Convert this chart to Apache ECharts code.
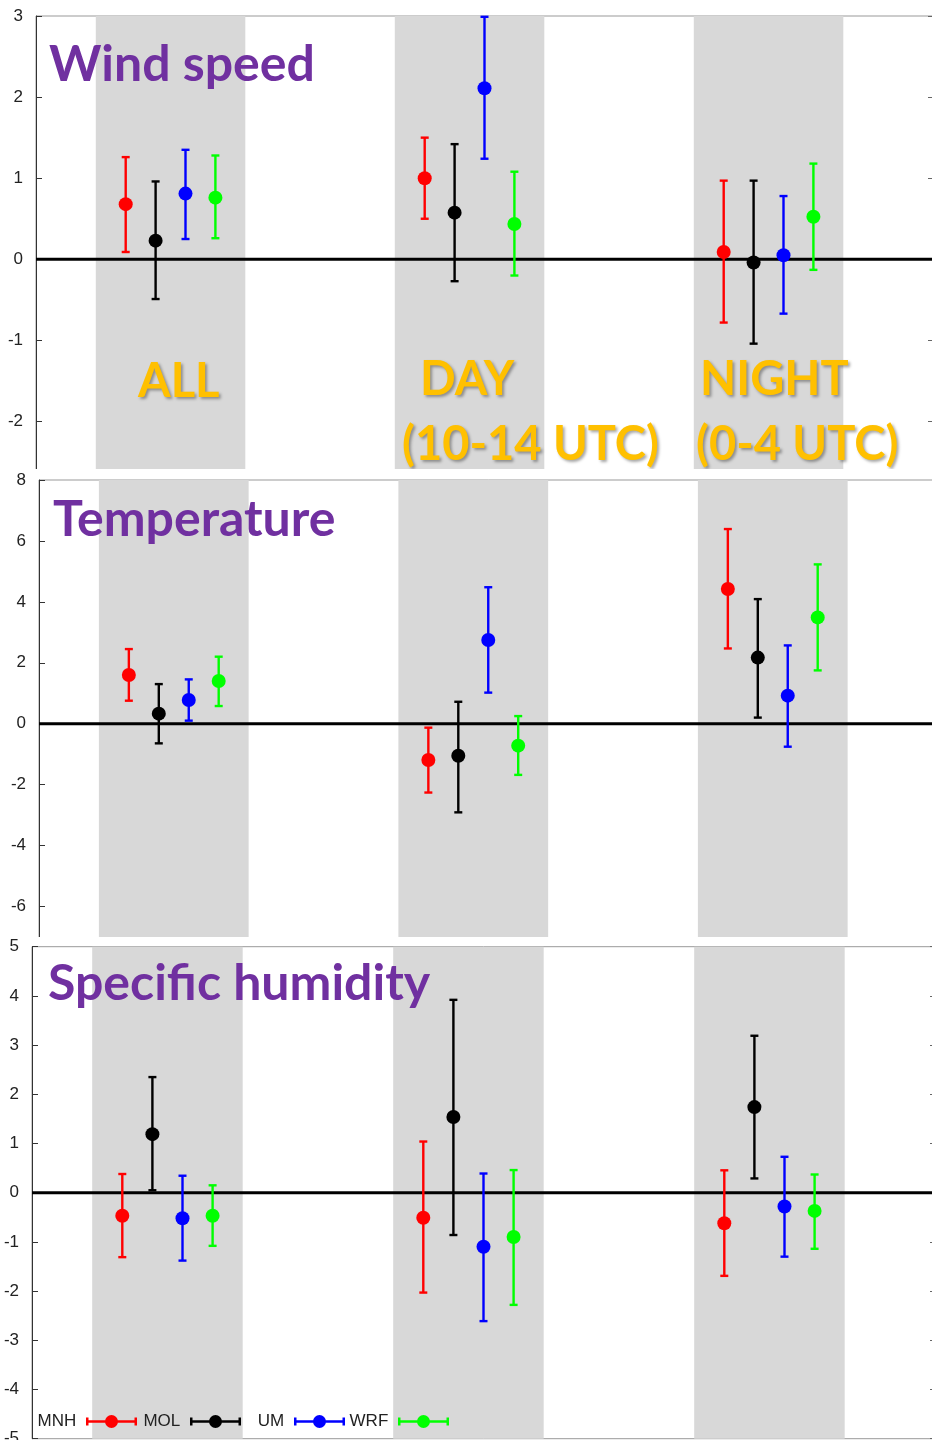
<!DOCTYPE html>
<html>
<head>
<meta charset="utf-8">
<script src="https://cdn.jsdelivr.net/npm/echarts@6/dist/echarts.min.js"></script>
<style>
  html, body { margin: 0; padding: 0; background: #fff; }
  #page { position: relative; width: 932px; height: 1440px; overflow: hidden; background: #fff; }
  .clip { position: absolute; left: 0; width: 932px; overflow: hidden; }
  .chart { position: absolute; left: 0; top: 0; width: 950px; }
</style>
</head>
<body>
<div id="page">
  <div class="clip" style="top:0;height:469px"><div class="chart" id="wind" style="height:520px"></div></div>
  <div class="clip" style="top:469px;height:468px"><div class="chart" id="temp" style="height:520px"></div></div>
  <div class="clip" style="top:937px;height:503px"><div class="chart" id="hum" style="height:520px"></div></div>
</div>
<script>
// Models and averaging periods
const models = ['MNH', 'MOL', 'UM', 'WRF'];
const modelColors = ['#FF0000', '#000000', '#0000FF', '#00FF00'];
const periods = ['ALL', 'DAY', 'NIGHT'];

// Wind speed bias: rows = model, columns = period (ALL, DAY, NIGHT)
const windMean = [[0.68, 1.00, 0.09], [0.23, 0.575, -0.04], [0.81, 2.11, 0.05], [0.76, 0.435, 0.525]];
const windLow  = [[0.09, 0.50, -0.78], [-0.49, -0.27, -1.04], [0.25, 1.24, -0.67], [0.26, -0.20, -0.13]];
const windHigh = [[1.26, 1.50, 0.97], [0.96, 1.42, 0.97], [1.35, 2.99, 0.78], [1.28, 1.08, 1.18]];

// Temperature bias
const tempMean = [[1.60, -1.19, 4.42], [0.33, -1.05, 2.17], [0.78, 2.75, 0.92], [1.40, -0.72, 3.49]];
const tempLow  = [[0.755, -2.26, 2.47], [-0.645, -2.91, 0.20], [0.10, 1.02, -0.755], [0.58, -1.68, 1.75]];
const tempHigh = [[2.45, -0.13, 6.39], [1.30, 0.72, 4.09], [1.455, 4.48, 2.57], [2.20, 0.25, 5.23]];

// Specific humidity bias
const humMean = [[-0.47, -0.51, -0.62], [1.19, 1.54, 1.74], [-0.52, -1.10, -0.28], [-0.47, -0.90, -0.37]];
const humLow  = [[-1.31, -2.03, -1.69], [0.05, -0.86, 0.29], [-1.38, -2.61, -1.30], [-1.08, -2.28, -1.14]];
const humHigh = [[0.38, 1.04, 0.455], [2.35, 3.92, 3.19], [0.345, 0.39, 0.73], [0.15, 0.46, 0.37]];

// x layout: each period occupies a block of 10 units; models sit at consecutive units
function slotX(periodIdx, modelIdx) { return 3 + 10 * periodIdx + modelIdx; }
const bands = periods.map((p, j) => [{ xAxis: 2 + 10 * j }, { xAxis: 7 + 10 * j }]);

function renderErrorBar(params, api) {
  const x = api.value(0);
  const c = api.coord([x, api.value(1)]);
  const lo = api.coord([x, api.value(2)]);
  const hi = api.coord([x, api.value(3)]);
  const color = api.visual('color');
  const cap = 4;
  const st = () => ({ stroke: color, lineWidth: 2.4 });
  return {
    type: 'group',
    children: [
      { type: 'line', shape: { x1: lo[0], y1: lo[1], x2: hi[0], y2: hi[1] }, style: st() },
      { type: 'line', shape: { x1: lo[0] - cap, y1: lo[1], x2: lo[0] + cap, y2: lo[1] }, style: st() },
      { type: 'line', shape: { x1: hi[0] - cap, y1: hi[1], x2: hi[0] + cap, y2: hi[1] }, style: st() },
      { type: 'circle', shape: { cx: c[0], cy: c[1], r: 7 }, style: { fill: color } }
    ]
  };
}

function errorSeries(mean, low, high) {
  return models.map((m, i) => ({
    type: 'custom',
    name: m,
    z: 10,
    itemStyle: { color: modelColors[i] },
    renderItem: renderErrorBar,
    encode: { x: 0, y: [1, 2, 3] },
    data: periods.map((p, j) => [slotX(j, i), mean[i][j], low[i][j], high[i][j]])
  }));
}

const purpleTitle = { color: '#7030A0', fontFamily: 'Lato', fontWeight: 'bold', fontSize: 50 };
const goldText = {
  color: '#FFC000', fontFamily: 'Lato', fontWeight: 'bold', fontSize: 47,
  textShadowColor: 'rgba(0,0,0,0.35)', textShadowBlur: 3, textShadowOffsetX: 2, textShadowOffsetY: 2
};

function panelOption(cfg) {
  const yCommon = { type: 'value', min: cfg.min, max: cfg.max, interval: cfg.interval, splitLine: { show: false } };
  return {
    animation: false,
    backgroundColor: '#fff',
    title: [{ text: cfg.title, left: cfg.titleLeft, top: cfg.titleTop, padding: 0, textStyle: purpleTitle }]
      .concat(cfg.notes || []),
    grid: {
      left: cfg.left, top: cfg.top, width: cfg.width, height: cfg.height,
      outerBoundsMode: 'none', containLabel: false,
      show: true, borderColor: '#999', borderWidth: 1, backgroundColor: 'transparent'
    },
    xAxis: {
      type: 'value', min: 0, max: 30, position: 'top',
      axisLine: { show: false },
      axisTick: { show: true, inside: true, length: 3, customValues: [4, 14, 24], lineStyle: { color: '#777' } },
      axisLabel: { show: false },
      splitLine: { show: false }
    },
    yAxis: [
      Object.assign({}, yCommon, {
        axisLine: { show: true, lineStyle: { color: '#333', width: 1 } },
        axisTick: { show: true, inside: true, length: 6, lineStyle: { color: '#333' } },
        axisLabel: { fontSize: 17, color: '#222', margin: 13, fontFamily: 'Liberation Sans' }
      }),
      Object.assign({}, yCommon, {
        position: 'right',
        axisLine: { show: false },
        axisTick: { show: true, inside: true, length: 5, lineStyle: { color: '#666' } },
        axisLabel: { show: false }
      })
    ],
    legend: cfg.legend || [],
    series: [{
      type: 'line',
      name: 'zero',
      z: 5,
      silent: true,
      symbol: 'none',
      lineStyle: { color: '#000', width: 3 },
      data: [[0, 0], [30, 0]],
      markArea: { silent: true, z: 1, itemStyle: { color: '#d8d8d8' }, data: bands }
    }].concat(errorSeries(cfg.mean, cfg.low, cfg.high))
  };
}

// Legend sample: horizontal error bar with a dot
const legendIcon = 'path://M0 7h5v5.5h92v-5.5h5v16h-5v-5.5h-92v5.5h-5z M64 15a13 13 0 1 1 -26 0a13 13 0 1 1 26 0z';

const wind = echarts.init(document.getElementById('wind'));
wind.setOption(panelOption({
  title: 'Wind speed', titleLeft: 49, titleTop: 40,
  left: 36, top: 16, width: 897, height: 486.6,
  min: -3, max: 3, interval: 1,
  mean: windMean, low: windLow, high: windHigh,
  notes: [
    { text: 'ALL', left: 138, top: 358, padding: 0, textStyle: goldText },
    { text: 'DAY', left: 420, top: 356, padding: 0, textStyle: goldText },
    { text: '(10-14 UTC)', left: 402, top: 421, padding: 0, textStyle: goldText },
    { text: 'NIGHT', left: 700, top: 356, padding: 0, textStyle: goldText },
    { text: '(0-4 UTC)', left: 696, top: 421, padding: 0, textStyle: goldText }
  ]
}));

const temp = echarts.init(document.getElementById('temp'));
temp.setOption(panelOption({
  title: 'Temperature', titleLeft: 53, titleTop: 26,
  left: 39, top: 11, width: 898.5, height: 487.4,
  min: -8, max: 8, interval: 2,
  mean: tempMean, low: tempLow, high: tempHigh
}));

const hum = echarts.init(document.getElementById('hum'));
hum.setOption(panelOption({
  title: 'Specific humidity', titleLeft: 48, titleTop: 22,
  left: 32, top: 9.7, width: 903, height: 492,
  min: -5, max: 5, interval: 1,
  mean: humMean, low: humLow, high: humHigh,
  legend: models.map((m, i) => ({
    data: [m],
    right: 950 - (137 + 104 * i),
    top: 476,
    padding: 0,
    align: 'right',
    icon: legendIcon,
    itemWidth: 51,
    itemHeight: 13,
    symbolKeepAspect: false,
    selectedMode: false,
    formatter: '{name} ',
    textStyle: { fontSize: 17, color: '#222', fontFamily: 'Liberation Sans' }
  }))
}));
</script>
</body>
</html>
